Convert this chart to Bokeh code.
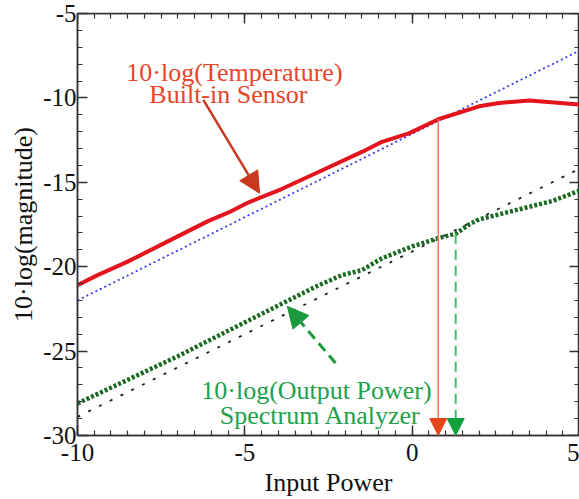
from bokeh.plotting import figure
from bokeh.models import (Range1d, LinearAxis, SingleIntervalTicker, Arrow,
                          NormalHead, Label)
from bokeh.embed import file_html
from bokeh.resources import INLINE

# ---- data -------------------------------------------------------------
# Built-in temperature sensor response, 10·log(T) vs input power
temp_x = [-10, -9.4, -8.5, -7.3, -6.1, -5.5, -4.9, -3.9, -2.7, -1.5, -0.9,
          -0.1, 0.8, 2.0, 2.6, 3.5, 5.0]
temp_y = [-21.1, -20.5, -19.7, -18.5, -17.3, -16.8, -16.2, -15.4, -14.3,
          -13.2, -12.6, -12.1, -11.25, -10.5, -10.3, -10.15, -10.4]

# Spectrum analyzer output power, 10·log(P) vs input power
power_x = [-10, -8.5, -7.0, -5.5, -4.0, -2.9, -2.1, -1.5, -0.9, 0.0, 0.8,
           1.3, 1.7, 2.0, 3.0, 4.2, 5.0]
power_y = [-28.1, -26.7, -25.3, -23.8, -22.3, -21.2, -20.5, -20.2, -19.5,
           -18.8, -18.3, -18.05, -17.5, -17.2, -16.7, -16.1, -15.5]

# Linear reference fits
temp_fit_x = [-10, 5]
temp_fit_y = [-22.0, -7.2]
power_fit_x = [-10, 5]
power_fit_y = [-28.9, -14.2]

# Compression points where each curve leaves its linear fit
temp_knee = (0.78, -11.25)
power_knee = (1.3, -18.05)

x_ticks = [-10, -5, 0, 5]
y_ticks = [-30, -25, -20, -15, -10, -5]

FONT = "Liberation Serif"
X_MIN, X_MAX = x_ticks[0], x_ticks[-1]
Y_MIN, Y_MAX = y_ticks[0], y_ticks[-1]

p = figure(width=579, height=499, output_backend="svg", toolbar_location=None,
           x_range=Range1d(X_MIN, X_MAX), y_range=Range1d(Y_MIN, Y_MAX),
           min_border_left=77, min_border_right=0, min_border_top=13,
           min_border_bottom=61, x_axis_location=None, y_axis_location=None)
p.xgrid.visible = False
p.ygrid.visible = False
p.outline_line_color = "#333333"
p.outline_line_width = 1.5
p.background_fill_color = "white"
p.border_fill_color = "white"


def style_axis(ax, ticks, show_labels):
    ax.axis_line_color = "#333333"
    ax.axis_line_width = 1.5
    ax.major_tick_in = 10
    ax.major_tick_out = 0
    ax.minor_tick_in = 5
    ax.minor_tick_out = 0
    ax.major_tick_line_color = "#333333"
    ax.minor_tick_line_color = "#333333"
    ax.major_tick_line_width = 1.5
    ax.minor_tick_line_width = 1.2
    ax.axis_label_standoff = 0
    if show_labels:
        ax.major_label_overrides = {t: str(t) for t in ticks}
        ax.major_label_text_font = FONT
        ax.major_label_text_font_size = "25px"
        ax.major_label_text_color = "#111111"
        ax.axis_label_text_font = FONT
        ax.axis_label_text_font_size = "26px"
        ax.axis_label_text_font_style = "normal"
        ax.axis_label_text_color = "#111111"
    else:
        # mirrored tick marks only, no numbers
        ax.major_label_overrides = {t: "" for t in ticks}
        ax.major_label_text_font_size = "1px"
        ax.major_label_text_color = None
        ax.major_label_standoff = 0


xb = LinearAxis(ticker=SingleIntervalTicker(interval=5, num_minor_ticks=10),
                axis_label="Input Power")
style_axis(xb, x_ticks, True)
xb.major_label_standoff = 8
xb.axis_label_standoff = 4
p.add_layout(xb, "below")

yl = LinearAxis(ticker=SingleIntervalTicker(interval=5, num_minor_ticks=5),
                axis_label="10·log(magnitude)")
style_axis(yl, y_ticks, True)
yl.major_label_standoff = 1
yl.axis_label_standoff = 2
p.add_layout(yl, "left")

# mirrored axes pinned to the frame edges so they take no border space
xa = LinearAxis(ticker=SingleIntervalTicker(interval=5, num_minor_ticks=10),
                fixed_location=Y_MAX)
style_axis(xa, x_ticks, False)
p.add_layout(xa, "above")

yr = LinearAxis(ticker=SingleIntervalTicker(interval=5, num_minor_ticks=5),
                fixed_location=X_MAX)
style_axis(yr, y_ticks, False)
p.add_layout(yr, "right")

# ---- curves -----------------------------------------------------------
p.line(temp_fit_x, temp_fit_y, line_color="#3b3bee", line_width=1.8,
       line_dash="2 3")
p.line(power_fit_x, power_fit_y, line_color="#222222", line_width=1.8,
       line_dash="3 9")
p.line(temp_x, temp_y, line_color="#e3141c", line_width=4,
       line_join="round")
p.line(power_x, power_y, line_color="#1a6a22", line_width=4.5,
       line_dash="3 2")

# ---- drop lines from the compression points to the axis ---------------
p.add_layout(Arrow(x_start=temp_knee[0], y_start=temp_knee[1],
                   x_end=temp_knee[0], y_end=Y_MIN,
                   line_color="#f27a5c", line_width=1.5,
                   end=NormalHead(size=17, fill_color="#e8441c",
                                  line_color="#e8441c")))
p.add_layout(Arrow(x_start=power_knee[0], y_start=power_knee[1],
                   x_end=power_knee[0], y_end=Y_MIN,
                   line_color="#3cbf6a", line_width=2, line_dash="10 6",
                   end=NormalHead(size=17, fill_color="#11a03c",
                                  line_color="#11a03c")))

# ---- callouts ---------------------------------------------------------
p.add_layout(Arrow(x_start=-6.24, y_start=-10.12, x_end=-4.56, y_end=-15.65,
                   line_color="#c8391f", line_width=2.5,
                   end=NormalHead(size=21, fill_color="#c8391f",
                                  line_color="#c8391f")))
p.add_layout(Arrow(x_start=-2.29, y_start=-25.71, x_end=-3.73, y_end=-22.35,
                   line_color="#1a9a3c", line_width=3, line_dash="10 6",
                   end=NormalHead(size=21, fill_color="#1a9a3c",
                                  line_color="#1a9a3c")))

red_text = "#e8442a"
green_text = "#22a04a"
for txt, x, y, c in [("10·log(Temperature)", -5.31, -8.47, red_text),
                     ("Built-in Sensor", -5.49, -9.82, red_text),
                     ("10·log(Output Power)", -2.86, -27.35, green_text),
                     ("Spectrum Analyzer", -2.74, -28.82, green_text)]:
    p.add_layout(Label(x=x, y=y, text=txt, text_align="center",
                       text_baseline="alphabetic", text_font=FONT,
                       text_font_size="26px", text_color=c))

open("out.html", "w").write(file_html(p, INLINE))
